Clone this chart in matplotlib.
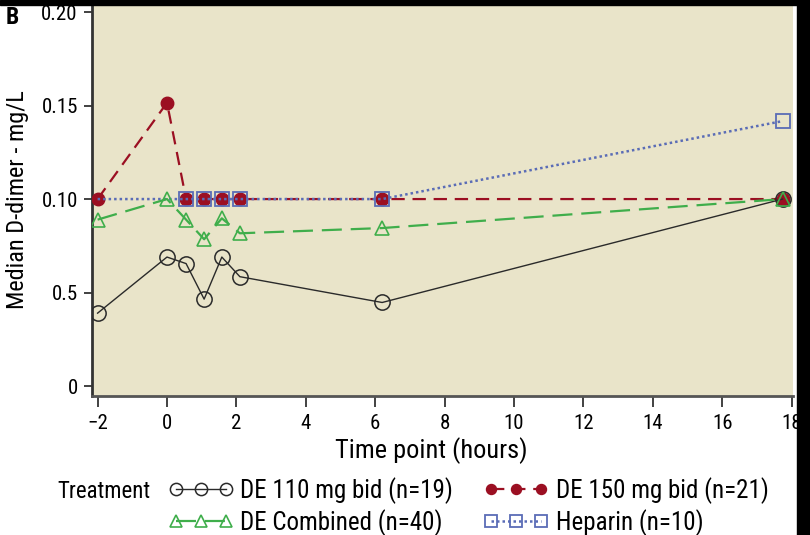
import matplotlib
matplotlib.use("Agg")
import matplotlib.pyplot as plt
from matplotlib.patches import Rectangle
from matplotlib import font_manager

# ---- data ----
times = [-2, 0, 0.55, 1.07, 1.58, 2.1, 6.2, 17.74]
de110 = [0.039, 0.069, 0.0655, 0.0465, 0.069, 0.0585, 0.0447, 0.100]
de150 = [0.100, 0.1515, 0.100, 0.100, 0.100, 0.100, 0.100, 0.100]
decomb = [0.089, 0.100, 0.089, 0.0785, 0.0897, 0.0817, 0.0845, 0.100]
hep_times = [-2, 0.55, 1.07, 1.58, 2.1, 6.2, 17.74]
heparin = [0.100, 0.100, 0.100, 0.100, 0.100, 0.100, 0.1417]

yticks = [0, 0.05, 0.10, 0.15, 0.20]
ytick_labels = ["0", "0.5", "0.10", "0.15", "0.20"]
xticks = [-2, 0, 2, 4, 6, 8, 10, 12, 14, 16, 18]

labels = ["DE 110 mg bid (n=19)", "DE 150 mg bid (n=21)",
          "DE Combined (n=40)", "Heparin (n=10)"]

names = {f.name for f in font_manager.fontManager.ttflist}
fam = "DejaVu Sans"
for cand in ["Roboto Condensed", "Archivo Narrow", "Asap Condensed", "Barlow Condensed"]:
    if cand in names:
        fam = cand
        break
plt.rcParams['font.family'] = [fam, 'DejaVu Sans']

red = "#9b0f22"
green = "#3fae4b"
blue = "#5a6cb6"
black = "#2a2a2a"
bg = "#e9e4c9"

fig = plt.figure(figsize=(8.1, 5.35), dpi=100)
ax = fig.add_axes([91.7/810, 1-396/535, (793-91.7)/810, (396-4)/535])
ax.set_facecolor(bg)

l150, = ax.plot(times, de150, color=red, lw=1.6, ls=(0, (6, 3.5)),
                marker='o', ms=9, mfc=red, mec=red, zorder=3)
lhep, = ax.plot(hep_times, heparin, color=blue, lw=1.8, ls=(0, (1, 1.2)),
                marker='s', ms=10.5, mfc='none', mec=blue, mew=1.3,
                markevery=list(range(1, len(hep_times))), zorder=4)
l110, = ax.plot(times, de110, color=black, lw=1.0, ls='-',
                marker='o', ms=11, mfc='none', mec=black, mew=1.1, zorder=5)
lcomb, = ax.plot(times, decomb, color=green, lw=1.6, ls=(0, (9, 4)),
                 marker='^', ms=10.5, mfc='none', mec=green, mew=1.2, zorder=6)

ax.set_xlim(-2.17, 18.04)
ax.set_ylim(-0.0053, 0.2043)
ax.set_xticks(xticks)
ax.set_xticklabels(["\u22122"] + [str(t) for t in xticks[1:]])
ax.set_yticks(yticks)
ax.set_yticklabels(ytick_labels)
ax.tick_params(axis='both', direction='out', length=6, width=1.3,
               color='#333333', labelsize=15, pad=4)
ax.tick_params(axis='x', length=8, pad=5)
for s in ['top', 'right']:
    ax.spines[s].set_visible(False)
ax.spines['left'].set_linewidth(2)
ax.spines['left'].set_color('#333333')
ax.spines['bottom'].set_linewidth(2)
ax.spines['bottom'].set_color('#555555')

ax.set_xlabel("Time point (hours)", fontsize=19, labelpad=2)
ax.xaxis.set_label_coords(0.484, -0.105)
ax.set_ylabel("Median D-dimer - mg/L", fontsize=17.5, labelpad=9)

fig.text(57/810, 1-491/535, "Treatment", fontsize=16.5, va='center', ha='left')
leg = fig.legend([l110, lcomb, l150, lhep], [labels[0], labels[2], labels[1], labels[3]],
                 ncol=2, numpoints=3, loc='upper left',
                 bbox_to_anchor=(168/810, 1-477/535), frameon=False,
                 borderpad=0, borderaxespad=0,
                 fontsize=18, handlelength=2.6, handletextpad=0.3,
                 columnspacing=1.2, labelspacing=0.2, markerscale=0.8)

fig.text(6/810, 1-18/535, "B", fontsize=17, fontweight='bold', va='center', ha='left')

fig.add_artist(Rectangle((0, 1-5/535), 1, 5/535, transform=fig.transFigure,
                         color='black', zorder=10))
fig.add_artist(Rectangle((797/810, 0), 13/810, 1, transform=fig.transFigure,
                         color='black', zorder=10))

fig.savefig("out.png", dpi=100)
